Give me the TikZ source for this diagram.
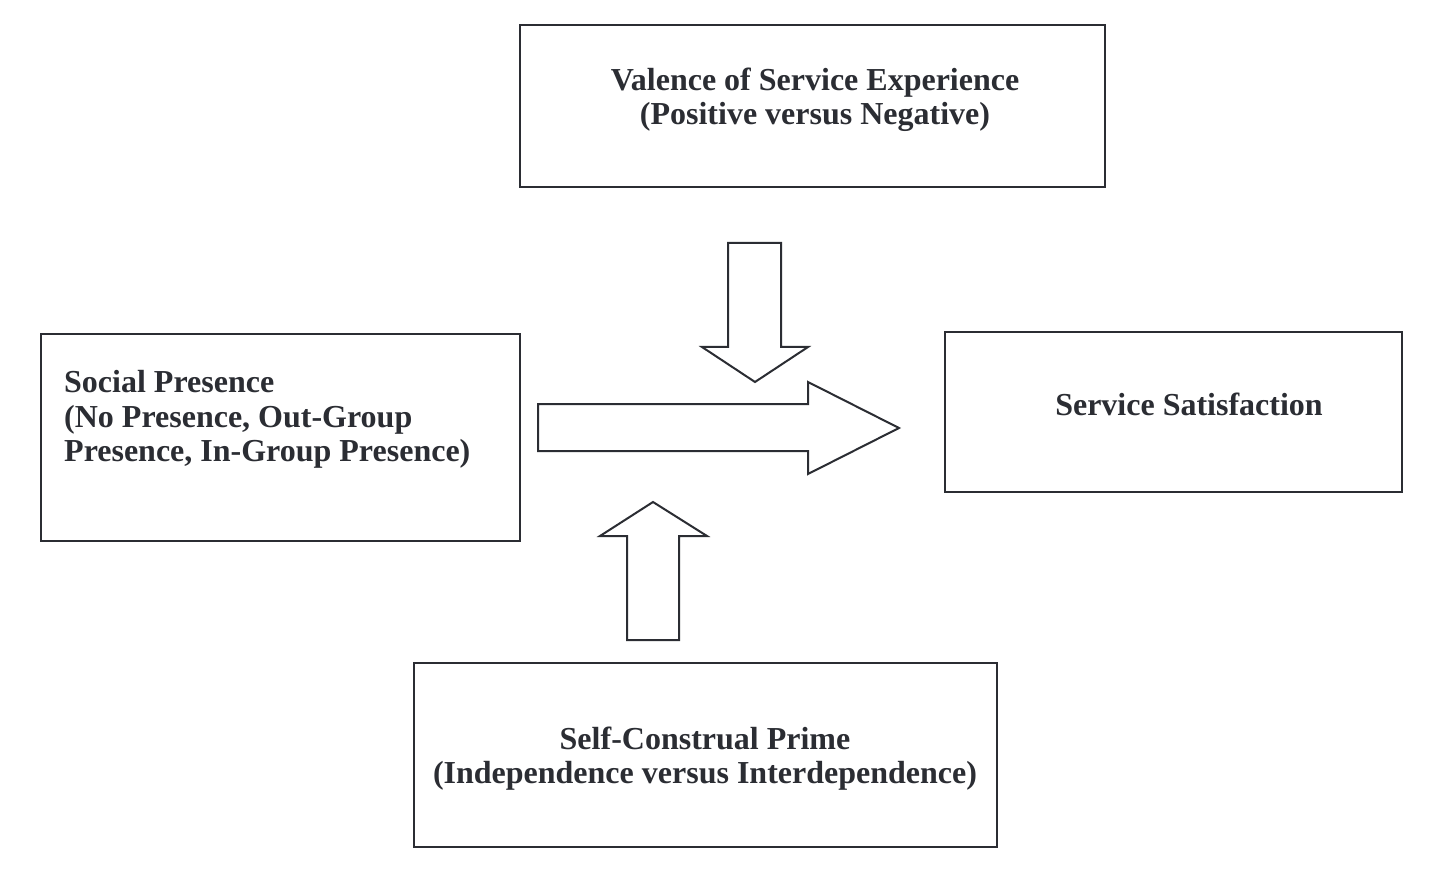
\documentclass[tikz,border=0pt]{standalone}
\usepackage{fontspec}
\setmainfont{Liberation Serif}
\definecolor{ink}{HTML}{2B2D33}
\tikzset{
  box/.style={draw=ink, line width=2pt, inner sep=0pt},
  label/.style={text=ink, font=\fontsize{32}{34.4}\selectfont\bfseries, inner sep=0pt},
  blockarrow/.style={draw=ink, line width=2pt, line join=miter, fill=white}
}
\begin{document}
\begin{tikzpicture}[x=1pt, y=-1pt]
  \useasboundingbox (0,0) rectangle (1429,874);
  \node[box, minimum width=585, minimum height=162] (valence) at (812.5,106) {};
  \node[box, minimum width=479, minimum height=207] (social) at (280.5,437.5) {};
  \node[box, minimum width=457, minimum height=160] (satis) at (1173.5,412) {};
  \node[box, minimum width=583, minimum height=184] (prime) at (705.5,755) {};
  \node[label, align=center] (valtext) at (815,99.8) {Valence of Service Experience\\(Positive versus Negative)};
  \node[label, align=left, anchor=west] (soctext) at (64,419.5) {Social Presence\\(No Presence, Out-Group\\Presence, In-Group Presence)};
  \node[label, anchor=base] (sattext) at (1189,415.7) {Service Satisfaction};
  \node[label, align=center] (primtext) at (705,758.6) {Self-Construal Prime\\(Independence versus Interdependence)};
  \draw[blockarrow] (728,243) -- (781,243) -- (781,347) -- (808,347) -- (755,382) -- (702,347) -- (728,347) -- cycle;
  \draw[blockarrow] (538,404) -- (808,404) -- (808,382) -- (899,428) -- (808,474) -- (808,451) -- (538,451) -- cycle;
  \draw[blockarrow] (627,640) -- (679,640) -- (679,536) -- (707,536) -- (653,502) -- (600,536) -- (627,536) -- cycle;
\end{tikzpicture}
\end{document}
